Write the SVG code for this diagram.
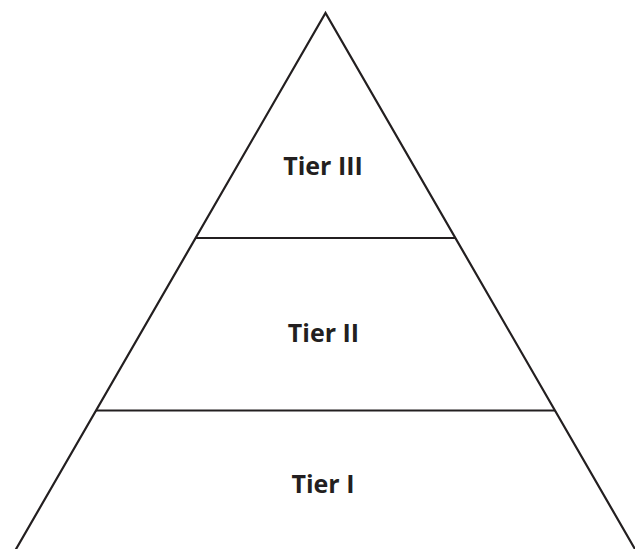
<svg xmlns="http://www.w3.org/2000/svg" width="635" height="549" viewBox="0 0 635 549">
<style>
.edge{fill:none;stroke:#231f20;stroke-width:2.2;stroke-linejoin:miter}
.lbl{font-family:"Open Sans","Liberation Sans",sans-serif;font-weight:bold;font-size:25px;fill:#231f20;text-anchor:middle}
</style>
<rect width="635" height="549" fill="#ffffff"/>
<g id="connectors">
<polyline class="edge" points="15.5,550 325.5,13 635.5,550"/>
<line class="edge" x1="196" y1="238" x2="455" y2="238"/>
<line class="edge" x1="96" y1="410.5" x2="555" y2="410.5"/>
</g>
<g id="tier3"><text class="lbl" x="323" y="175">Tier III</text></g>
<g id="tier2"><text class="lbl" x="323.5" y="341.5">Tier II</text></g>
<g id="tier1"><text class="lbl" x="323" y="493">Tier I</text></g>
</svg>
